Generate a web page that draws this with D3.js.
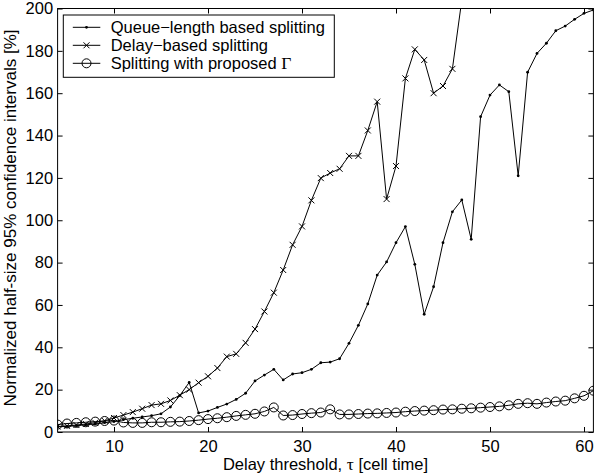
<!DOCTYPE html>
<html>
<head>
<meta charset="utf-8">
<script src="https://cdn.jsdelivr.net/npm/d3@7"></script>
<style>
  body { margin: 0; background: #fff; }
  svg { display: block; font-family: "Liberation Sans", Arial, sans-serif; }
  .sym { font-family: "Liberation Serif", "Times New Roman", serif; }
</style>
</head>
<body>
<svg id="chart" width="596" height="475"></svg>
<script>
// delay threshold values (cell time)
const tau = [4, 5, 6, 7, 8, 9, 10, 11, 12, 13, 14, 15, 16, 17, 18, 19, 20, 21, 22, 23,
    24, 25, 26, 27, 28, 29, 30, 31, 32, 33, 34, 35, 36, 37, 38, 39, 40, 41, 42, 43,
    44, 45, 46, 47, 48, 49, 50, 51, 52, 53, 54, 55, 56, 57, 58, 59, 60, 61];

const queueBased = [2.5, 2.6, 3.0, 3.4, 3.8, 4.4, 4.9, 5.8, 6.5, 7.1,
    7.7, 8.6, 11.8, 17.2, 23.4, 9.0, 9.9, 11.6, 13.2, 15.4,
    18.3, 24.1, 26.9, 29.6, 24.6, 27.4, 28.0, 29.6, 32.7, 33.0,
    34.6, 41.9, 50.4, 60.5, 74.1, 80.3, 89.4, 97.0, 79.2, 55.6,
    68.6, 89.4, 104.0, 109.6, 91.0, 148.9, 159.1, 163.9, 160.7, 121.0,
    169.9, 178.8, 183.6, 189.5, 191.7, 194.9, 197.7, 199.3];

// delay-based curve leaves the top of the axes after tau = 47
const delayBased = [2.6, 2.9, 3.3, 3.8, 4.4, 5.3, 6.6, 8.0, 9.4, 11.0,
    12.7, 13.3, 14.9, 17.4, 20.0, 23.3, 26.3, 30.2, 35.6, 36.9,
    42.1, 48.6, 56.9, 65.8, 76.5, 88.4, 97.1, 109.4, 119.9, 122.3,
    124.3, 130.4, 130.4, 142.4, 156.0, 110.0, 125.6, 167.0, 180.7, 175.7,
    160.0, 163.4, 171.5, 204.0];

const proposed = [3.5, 4.0, 4.3, 4.6, 4.9, 5.2, 5.4, 4.5, 4.3, 4.3,
    4.6, 4.6, 4.8, 4.9, 5.2, 5.6, 6.1, 6.5, 7.0, 7.6,
    8.1, 8.6, 9.7, 11.6, 7.8, 8.0, 8.5, 8.9, 9.2, 10.7,
    8.3, 8.3, 8.5, 8.7, 8.8, 9.0, 9.2, 9.6, 9.9, 10.1,
    10.3, 10.6, 10.7, 11.0, 11.2, 11.5, 11.8, 12.1, 12.6, 13.3,
    13.6, 13.3, 13.9, 14.4, 14.8, 15.9, 17.1, 19.5];

const xTicks = [10, 20, 30, 40, 50, 60];
const yTicks = [0, 20, 40, 60, 80, 100, 120, 140, 160, 180, 200];
const legendLabels = [["Queue\u2212length based splitting", ""], ["Delay\u2212based splitting", ""], ["Splitting with proposed ", "\u0393"]];

const fontSize = "16.5px";
const margin = {left: 57.6, right: 2.6, top: 8.5, bottom: 43},
    width = 596 - margin.left - margin.right,
    height = 475 - margin.top - margin.bottom;

const svg = d3.select("#chart");
const g = svg.append("g").attr("transform", "translate(" + margin.left + "," + margin.top + ")");

const x = d3.scaleLinear().domain([4, 61]).range([0, width]);
const y = d3.scaleLinear().domain([0, 200]).range([height, 0]);

g.append("clipPath").attr("id", "clip")
    .append("rect").attr("x", 0).attr("y", 0).attr("width", width).attr("height", height);

// axes, ticks inward, mirrored on top and right
const tickLen = 5;
function styleAxis(sel) {
    sel.select(".domain").remove();
    sel.selectAll(".tick line").attr("stroke", "#000");
    sel.selectAll(".tick text").attr("fill", "#000").style("font-size", fontSize);
}
g.append("g").attr("transform", "translate(0," + height + ")")
    .call(d3.axisBottom(x).tickValues(xTicks).tickSize(-tickLen).tickPadding(8.5))
    .call(styleAxis);
g.append("g").call(d3.axisTop(x).tickValues(xTicks).tickSize(-tickLen).tickFormat(""))
    .call(styleAxis);
g.append("g").call(d3.axisLeft(y).tickValues(yTicks).tickSize(-tickLen).tickPadding(4.5))
    .call(styleAxis);
g.append("g").attr("transform", "translate(" + width + ",0)")
    .call(d3.axisRight(y).tickValues(yTicks).tickSize(-tickLen).tickFormat(""))
    .call(styleAxis);

g.append("rect").attr("x", 0).attr("y", 0).attr("width", width).attr("height", height)
    .attr("fill", "none").attr("stroke", "#000").attr("stroke-width", 1);

const plot = g.append("g").attr("clip-path", "url(#clip)");

function series(vals) { return vals.map((v, i) => ({t: tau[i], v: v})); }
const line = d3.line().x(d => x(d.t)).y(d => y(d.v));

function drawMarker(sel, kind) {
    if (kind === "dot") {
        sel.append("circle").attr("r", 1.4).attr("fill", "#000");
    } else if (kind === "cross") {
        sel.append("path").attr("d", "M-3,-3L3,3M-3,3L3,-3")
            .attr("stroke", "#000").attr("stroke-width", 1).attr("fill", "none");
    } else {
        sel.append("circle").attr("r", 4.5).attr("fill", "none")
            .attr("stroke", "#000").attr("stroke-width", 1);
    }
}

const all = [
    {data: series(queueBased), kind: "dot"},
    {data: series(delayBased), kind: "cross"},
    {data: series(proposed), kind: "circle"}
];

all.forEach(function(s) {
    plot.append("path").datum(s.data)
        .attr("fill", "none").attr("stroke", "#000").attr("stroke-width", 1)
        .attr("d", line);
    plot.append("g").selectAll("g")
        .data(s.data)
        .join("g")
        .attr("transform", d => "translate(" + x(d.t) + "," + y(d.v) + ")")
        .each(function() { drawMarker(d3.select(this), s.kind); });
});

// legend
const lg = svg.append("g").attr("transform", "translate(63.3,15)");
lg.append("rect").attr("width", 271).attr("height", 62.3)
    .attr("fill", "#fff").attr("stroke", "#000").attr("stroke-width", 1);
all.forEach(function(s, i) {
    const yy = 12.3 + i * 18;
    lg.append("line").attr("x1", 9.5).attr("x2", 37).attr("y1", yy).attr("y2", yy)
        .attr("stroke", "#000").attr("stroke-width", 1);
    drawMarker(lg.append("g").attr("transform", "translate(23.2," + yy + ")"), s.kind);
    const t = lg.append("text").attr("x", 47.4).attr("y", yy + 6).style("font-size", fontSize);
    t.append("tspan").text(legendLabels[i][0]);
    if (legendLabels[i][1]) t.append("tspan").attr("class", "sym").style("font-size", "17.5px").text(legendLabels[i][1]);
});

// axis labels
const xl = svg.append("text").attr("x", margin.left + width / 2).attr("y", 469.5)
    .attr("text-anchor", "middle").style("font-size", fontSize);
xl.append("tspan").text("Delay threshold, ");
xl.append("tspan").attr("class", "sym").style("font-size", "17.5px").text("\u03c4");
xl.append("tspan").text(" [cell time]");

svg.append("text").attr("transform", "translate(15.5," + 218 + ") rotate(-90)")
    .attr("text-anchor", "middle").style("font-size", "17px")
    .text("Normalized half-size 95% confidence intervals [%]");
</script>
</body>
</html>
